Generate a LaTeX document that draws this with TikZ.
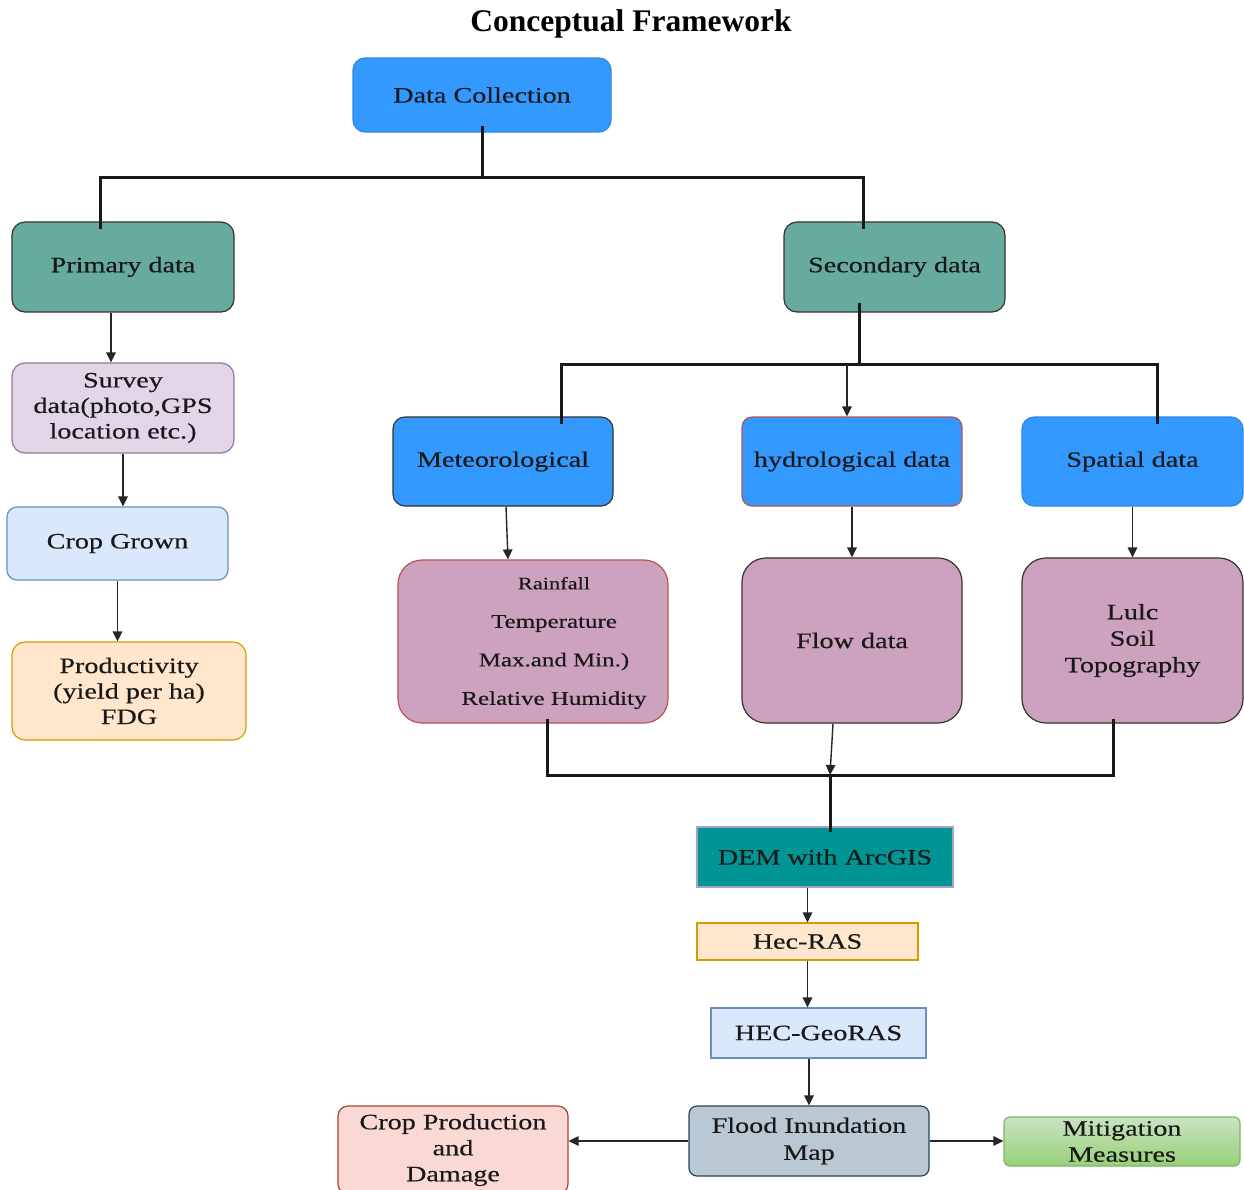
\documentclass[tikz,border=0pt]{standalone}
\usepackage{fontspec}
\setmainfont{Liberation Serif}
\newfontfamily\boxfont[FakeStretch=1.28,FakeBold=0.4]{Liberation Serif}
\usetikzlibrary{arrows.meta,calc}
\definecolor{cblue}{HTML}{3399FF}
\definecolor{cblueb}{HTML}{2F86E6}
\definecolor{cteal}{HTML}{67AB9F}
\definecolor{cdark}{HTML}{333333}
\definecolor{cpurf}{HTML}{E1D5E7}
\definecolor{cpurb}{HTML}{9673A6}
\definecolor{clbf}{HTML}{DAE8FC}
\definecolor{clbb}{HTML}{6C8EBF}
\definecolor{corf}{HTML}{FFE6CC}
\definecolor{corb}{HTML}{D79B00}
\definecolor{cmauve}{HTML}{CDA2BE}
\definecolor{cred}{HTML}{B85450}
\definecolor{cdem}{HTML}{009494}
\definecolor{cdemb}{HTML}{A9A0C8}
\definecolor{cgrey}{HTML}{BAC8D3}
\definecolor{cgreyb}{HTML}{23445D}
\definecolor{cpinkf}{HTML}{FAD9D5}
\definecolor{cpinkb}{HTML}{AE4132}
\definecolor{cgtop}{HTML}{C9E3C3}
\definecolor{cgbot}{HTML}{97D077}
\definecolor{cgb}{HTML}{82B366}
\begin{document}
\begin{tikzpicture}[x=1pt,y=-1pt,
  box/.style={draw, line width=1.2pt, rounded corners=13pt, align=center, inner sep=0pt,
    font=\boxfont\fontsize{22}{25.5}\selectfont, text=black!90},
  sqbox/.style={box, rounded corners=0pt},
  conn/.style={line width=3pt, black!90},
  arr/.style={line width=1.4pt, black!85, -{Triangle[length=10pt,width=9.5pt]}},
]
\fill[white] (0,0) rectangle (1244,1189);
\useasboundingbox (0,0) rectangle (1244,1189);

\node[font=\bfseries\fontsize{31.5}{34}\selectfont] (title) at (631,24) {Conceptual Framework};

% top
\node[box, fill=cblue, draw=cblueb, rounded corners=12pt, minimum width=258, minimum height=74] (dc) at (482,95) {Data Collection};
\node[box, fill=cteal, draw=cdark, minimum width=222, minimum height=90] (prim) at (123,267) {Primary data};
\node[box, fill=cteal, draw=cdark, minimum width=221, minimum height=90] (sec) at (894.5,267) {Secondary data};

% left column
\node[box, fill=cpurf, draw=cpurb, minimum width=222, minimum height=90] (surv) at (123,408) {Survey\\data(photo,GPS\\location etc.)};
\node[box, fill=clbf, draw=clbb, rounded corners=10pt, minimum width=221, minimum height=73] (crop) at (117.5,543.5) {Crop Grown};
\node[box, fill=corf, draw=corb, minimum width=234, minimum height=98] (prod) at (129,691) {Productivity\\(yield per ha)\\FDG};

% second level
\node[box, fill=cblue, draw=cdark, rounded corners=12pt, minimum width=220, minimum height=89] (met) at (503,461.5) {Meteorological};
\node[box, fill=cblue, draw=cred, rounded corners=10pt, minimum width=220, minimum height=89] (hyd) at (852,461.5) {hydrological data};
\node[box, fill=cblue, draw=cblueb, rounded corners=12pt, minimum width=221, minimum height=89] (spat) at (1132.5,461.5) {Spatial data};

\node[box, fill=cmauve, draw=cred, rounded corners=24pt, minimum width=270, minimum height=163] (rain) at (533,641.5) {};
\node[align=center, font=\boxfont\fontsize{19.5}{22}\selectfont, text=black!90] (raintxt) at (554,643)
  {{\fontsize{17.5}{20}\selectfont Rainfall}\\[16.5pt] Temperature\\[16.5pt] Max.and Min.)\\[16.5pt] Relative Humidity};
\node[box, fill=cmauve, draw=cdark, rounded corners=24pt, minimum width=220, minimum height=165] (flow) at (852,640.5) {Flow data};
\node[box, fill=cmauve, draw=cdark, rounded corners=24pt, minimum width=221, minimum height=165,
  font=\boxfont\fontsize{22}{26.5}\selectfont] (lulc) at (1132.5,640.5) {Lulc\\Soil\\Topography};

% lower chain
\node[sqbox, fill=cdem, draw=cdemb, minimum width=256, minimum height=60] (dem) at (825,857) {DEM with ArcGIS};
\node[sqbox, fill=corf, draw=corb, minimum width=221, minimum height=37] (hec) at (807.5,941.5) {Hec-RAS};
\node[sqbox, fill=clbf, draw=clbb, minimum width=215, minimum height=50] (geo) at (818.5,1033) {HEC-GeoRAS};
\node[box, fill=cgrey, draw=cgreyb, rounded corners=8pt, minimum width=240, minimum height=70,
  font=\boxfont\fontsize{22}{27}\selectfont] (flood) at (809,1141) {Flood Inundation\\Map};
\node[box, fill=cpinkf, draw=cpinkb, rounded corners=10pt, minimum width=230, minimum height=88,
  font=\boxfont\fontsize{22}{26}\selectfont] (cp) at (453,1150) {Crop Production\\and\\Damage};
\node[box, top color=cgtop, bottom color=cgbot, draw=cgb, rounded corners=6pt, minimum width=236, minimum height=49,
  font=\boxfont\fontsize{22}{26}\selectfont] (mit) at (1122,1141.5) {Mitigation\\Measures};

% connectors: top bus
\coordinate (b1) at (0,177);
\coordinate (pa) at ([xshift=-23pt,yshift=-8pt]prim.north);
\coordinate (sa) at ([xshift=-31.5pt,yshift=-8pt]sec.north);
\draw[conn] ([yshift=7pt]dc.south) -- (dc.south |- b1);
\draw[conn] (pa) |- (sa |- b1) -- (sa);

% left column arrows
\draw[arr] ([xshift=-12pt]prim.south) -- ([xshift=-12pt]surv.north);
\draw[arr] (surv.south) -- (surv.south |- crop.north);
\draw[arr] (crop.south) -- (crop.south |- prod.north);

% secondary bus
\coordinate (b2) at (0,364);
\coordinate (ss) at ([xshift=-35.5pt,yshift=10pt]sec.south);
\coordinate (ma) at ([xshift=58pt,yshift=-8pt]met.north);
\coordinate (spa) at ([xshift=24.5pt,yshift=-8pt]spat.north);
\coordinate (ha) at ([xshift=-5pt]hyd.north);
\draw[conn] (ss) -- (ss |- b2);
\draw[conn] (ma) |- (spa |- b2) -- (spa);
\draw[arr] (ha |- b2) -- (ha);

% to detail boxes
\draw[arr] ([xshift=3pt]met.south) -- ([xshift=-25pt]rain.north);
\draw[arr] (hyd.south) -- (flow.north);
\draw[arr] (spat.south) -- (lulc.north);

% lower bus
\coordinate (b3) at (0,775);
\coordinate (ra) at ([xshift=14pt,yshift=5pt]rain.south);
\coordinate (la) at ([xshift=-19.5pt,yshift=5pt]lulc.south);
\coordinate (da) at ([xshift=5pt,yshift=-6pt]dem.north);
\draw[conn] (ra) |- (la |- b3) -- (la);
\draw[arr] ([xshift=-19pt]flow.south) -- (da |- b3);
\draw[conn] (da |- b3) -- (da);

% chain
\draw[arr] (hec.north |- dem.south) -- (hec.north);
\draw[arr] (hec.south) -- (hec.south |- geo.north);
\draw[arr] (flood.north |- geo.south) -- (flood.north);
\draw[arr] (flood.west) -- (flood.west -| cp.east);
\draw[arr] (flood.east) -- (flood.east -| mit.west);
\end{tikzpicture}
\end{document}
